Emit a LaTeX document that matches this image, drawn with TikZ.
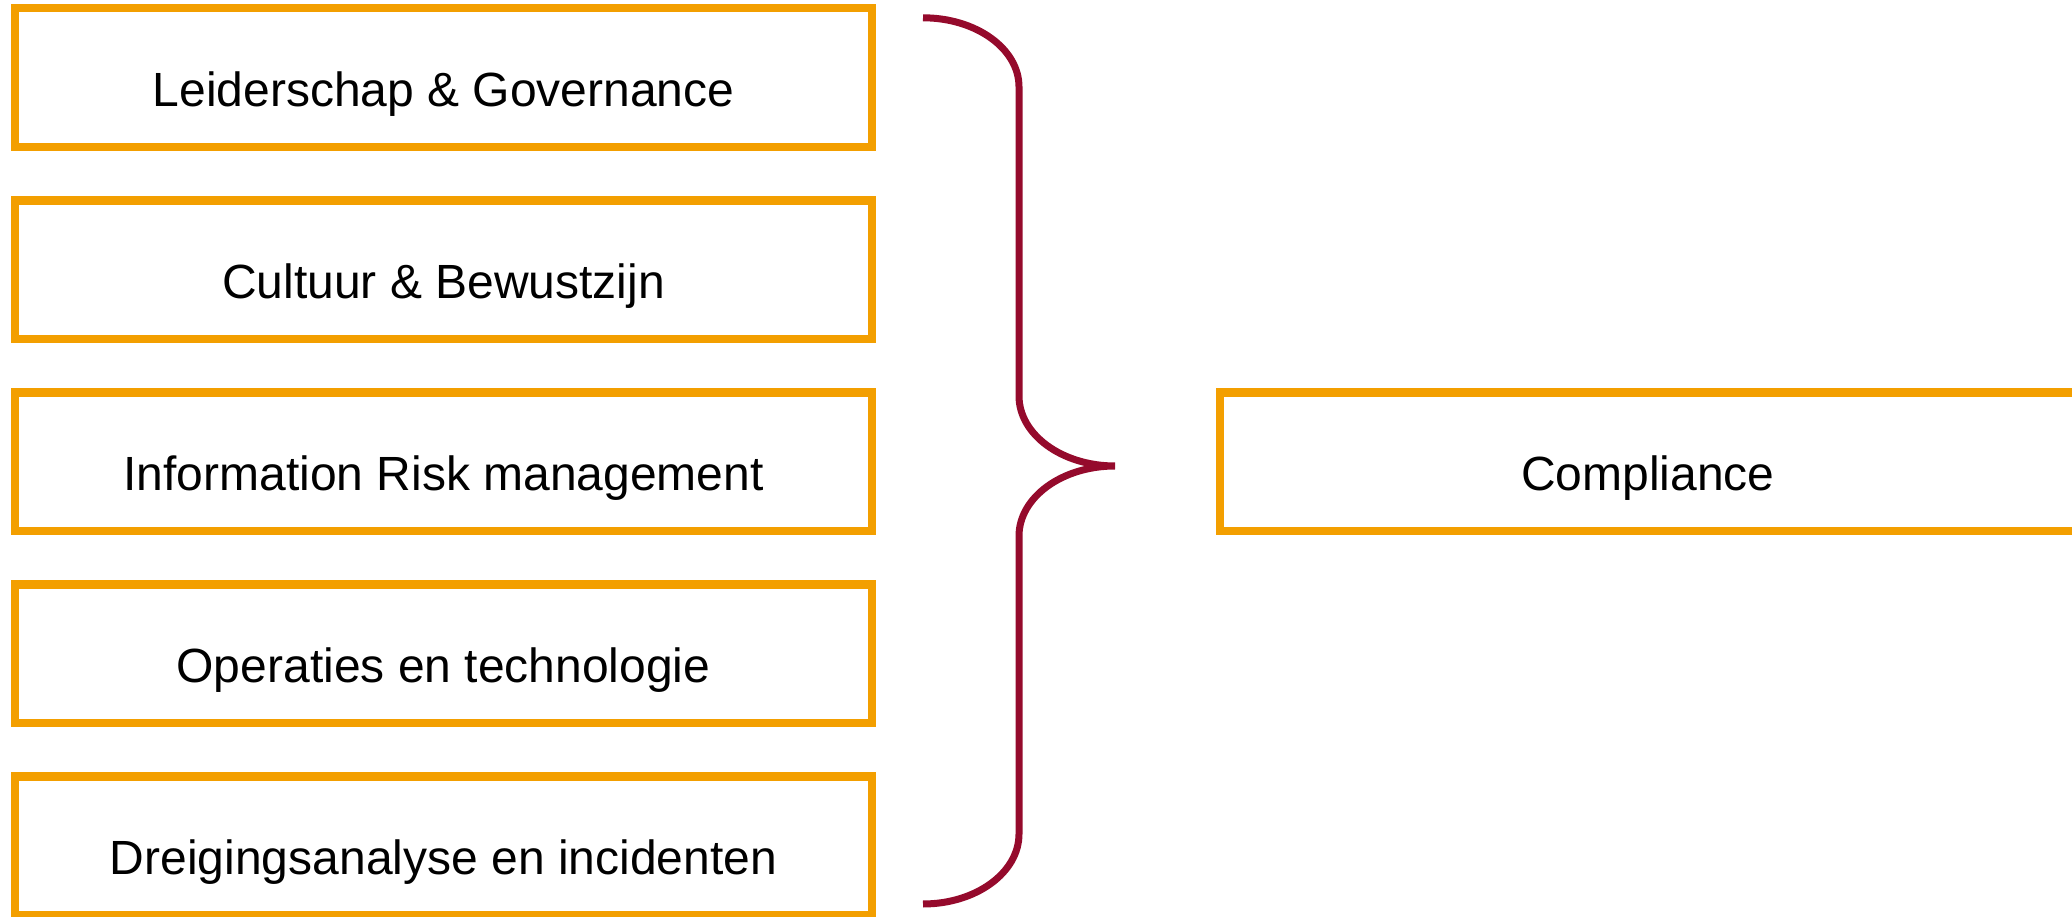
\documentclass[tikz,border=0pt]{standalone}
\usepackage{fontspec}
\setmainfont{Liberation Sans}
\usetikzlibrary{positioning}

\definecolor{pillarorange}{HTML}{F39F00}
\definecolor{bracered}{HTML}{950A2C}

\begin{document}
\begin{tikzpicture}[
	pillar/.style = {draw = pillarorange, line width = 8.3 * \L, minimum width = 856.4 * \L, minimum height = 138.7 * \L,
		inner sep = 0pt, outer sep = 0pt, text height = 58 * \L, text depth = 0pt, font = \fontsize{24}{29}\selectfont},
	brace/.style = {draw = bracered, line width = 7 * \L}
]

	% Definition

	\def\L{0.5pt}		% One pixel of the original

	\useasboundingbox (0, 0) rectangle (2072 * \L, 916 * \L);

	% Pillars

	\node [pillar] (lead) at (443.5 * \L, 838.3 * \L) {Leiderschap \& Governance};
	\node [pillar, below = 53.35 * \L of lead] (cult) {Cultuur \& Bewustzijn};
	\node [pillar, below = 53.35 * \L of cult] (risk) {Information Risk management};
	\node [pillar, below = 53.35 * \L of risk] (ops) {Operaties en technologie};
	\node [pillar, below = 53.35 * \L of ops] (threat) {Dreigingsanalyse en incidenten};

	% Result

	\node [pillar, right = 348.1 * \L of risk] (comp) {Compliance};

	% Brace

	\draw [brace] (923 * \L, 898.2 * \L)
		arc [start angle = 90, end angle = 0, x radius = 96 * \L, y radius = 69 * \L]
		-- (1019 * \L, 520 * \L)
		arc [start angle = 180, end angle = 270, x radius = 96 * \L, y radius = 70 * \L]
		arc [start angle = 90, end angle = 180, x radius = 96 * \L, y radius = 70 * \L]
		-- (1019 * \L, 82 * \L)
		arc [start angle = 0, end angle = -90, x radius = 96 * \L, y radius = 70 * \L];

\end{tikzpicture}
\end{document}
